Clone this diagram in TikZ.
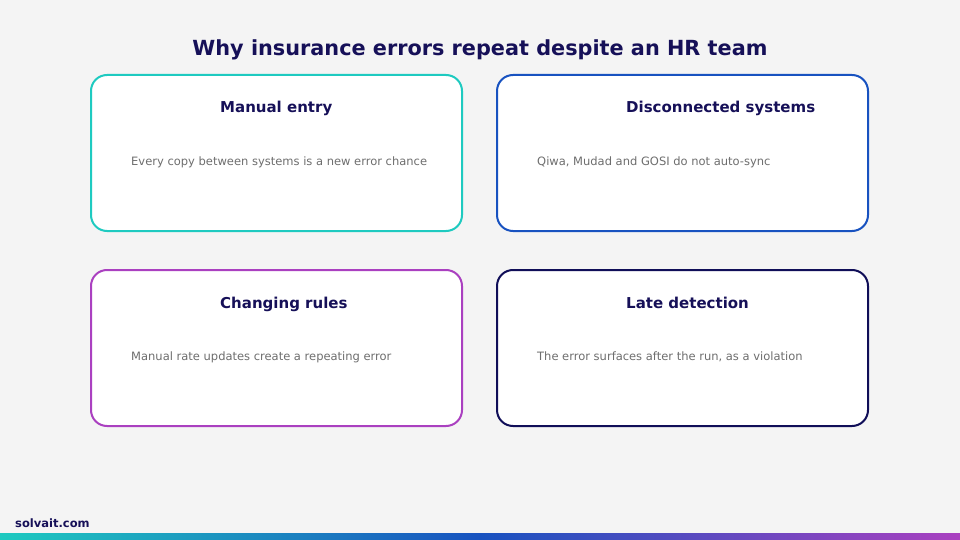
\documentclass[tikz,border=0pt]{standalone}
\usepackage{fontspec}
\setmainfont{DejaVu Sans}
\usepackage{tikz}
\usetikzlibrary{positioning}

\definecolor{cbg}{RGB}{244,244,244}
\definecolor{cnavy}{RGB}{22,16,88}
\definecolor{cgray}{RGB}{110,110,110}
\definecolor{cteal}{RGB}{30,202,192}
\definecolor{cblue}{RGB}{24,82,192}
\definecolor{cpurple}{RGB}{170,64,192}
\definecolor{cdark}{RGB}{16,14,88}
\pgfdeclarehorizontalshading{footbar}{100bp}{color(0bp)=(cteal); color(25bp)=(cteal);
	color(50bp)=(cblue); color(75bp)=(cpurple); color(100bp)=(cpurple)}

\begin{document}
\begin{tikzpicture}[x=1pt, y=-1pt,
		card/.style={draw, fill=white, line width=2pt, rounded corners=16pt,
			minimum width=371pt, minimum height=156pt, inner sep=0pt},
		head/.style={font=\fontsize{15}{18}\selectfont\bfseries, text=cnavy, inner sep=0pt},
		body/.style={font=\fontsize{11.5}{14}\selectfont, text=cgray, inner sep=0pt}]
		% Hintergrund
		\fill[cbg] (0,0) rectangle (960,540);
		% Titel
		\node[font=\fontsize{20.8}{24}\selectfont\bfseries, text=cnavy, anchor=base, inner sep=0pt] (title) at (480,56)
			{Why insurance errors repeat despite an HR team};
		% Karten
		\foreach \x/\y/\col/\id/\head/\body in {
			91/75/cteal/entry/Manual entry/{Every copy between systems is a new error chance},
			497/75/cblue/systems/Disconnected systems/{Qiwa, Mudad and GOSI do not auto-sync},
			91/270/cpurple/rules/Changing rules/{Manual rate updates create a repeating error},
			497/270/cdark/detection/Late detection/{The error surfaces after the run, as a violation}} {
			\node[card, draw=\col] (\id) at (\x+185.5,\y+78) {};
			\node[head, anchor=base west] (\id-head) at (\x+129,\y+38) {\head};
			\node[body, anchor=base west] (\id-body) at (\x+40,\y+90) {\body};
		}
		% Fusszeile
		\node[font=\fontsize{11.5}{14}\selectfont\bfseries, text=cnavy, anchor=base west, inner sep=0pt] (site) at (15,527) {solvait.com};
		\shade[shading=footbar] (0,533) rectangle (960,540);
	\end{tikzpicture}
\end{document}
